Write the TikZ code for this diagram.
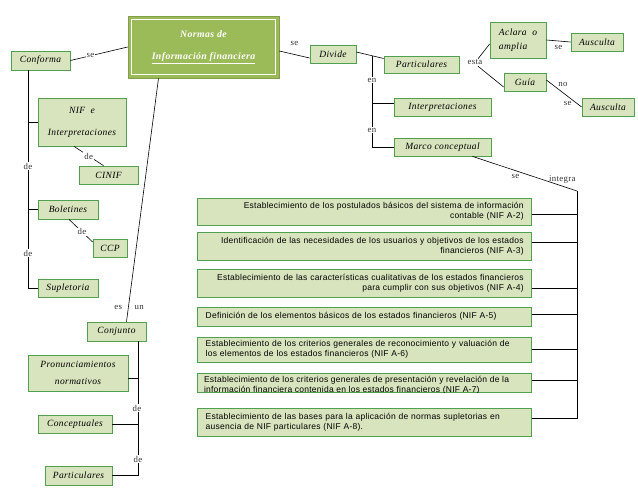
\documentclass[tikz,border=0pt]{standalone}
\usepackage{fontspec}
\setmainfont[LetterSpace=4]{Liberation Serif}
\newfontfamily\nifsans[LetterSpace=3]{Liberation Sans}
\usepackage{tikz}
\definecolor{normafill}{RGB}{155,187,89}
\definecolor{conceptfill}{RGB}{215,228,189}
\definecolor{conceptline}{RGB}{80,160,80}
\definecolor{labelgray}{RGB}{50,50,50}
\tikzset{>=latex}

\begin{document}
\begin{tikzpicture}[x=1pt,y=-1pt]
  % cajas verdes = conceptos, texto suelto = palabras de enlace
  \tikzset{
    concepto/.style={draw=conceptline, fill=conceptfill, line width=0.8pt, inner sep=1pt, font=\itshape\fontsize{9.5}{11}\selectfont},
    nif/.style={draw=conceptline, fill=conceptfill, line width=0.8pt, text width=318pt, inner xsep=8pt, font=\nifsans\fontsize{8.5}{10}\selectfont},
    enlace/.style={font=\fontsize{8.8}{10}\selectfont, text=labelgray, inner sep=1pt},
    corte/.style={enlace, fill=white},
    linea/.style={draw=black, line width=0.6pt}
  }
  \useasboundingbox (0,0) rectangle (638,493);

  \node[fill=normafill, draw=normafill!85!black, line width=0.6pt, minimum width=151, minimum height=62, align=center, text=white, font=\bfseries\itshape\fontsize{9.8}{11}\selectfont] (normas) at (203.5,47) {Normas de\\[11pt]\underline{Información financiera}};
  \draw[white, line width=0.9pt] ([xshift=3.5, yshift=-3.5]normas.north west) rectangle ([xshift=-3.5, yshift=3.5]normas.south east);

  \node[concepto, minimum width=59, minimum height=19] (conforma) at (40.5,60.5) {Conforma};
  \node[concepto, minimum width=88, minimum height=48, align=center] (nif) at (82,122) {NIF\ \ e\\[11pt]Interpretaciones};
  \node[concepto, minimum width=59, minimum height=18] (cinif) at (108.5,175) {CINIF};
  \node[concepto, minimum width=60, minimum height=19] (boletines) at (68,209.5) {Boletines};
  \node[concepto, minimum width=34, minimum height=18] (ccp) at (110,248) {CCP};
  \node[concepto, minimum width=60, minimum height=18] (supletoria) at (68,288) {Supletoria};
  \node[concepto, minimum width=59, minimum height=19] (conjunto) at (116.5,331.5) {Conjunto};
  \node[concepto, minimum width=100, minimum height=36, align=center] (pronun) at (78,373) {Pronunciamientos\\[6pt]normativos};
  \node[concepto, minimum width=74, minimum height=18] (conceptuales) at (75,424) {Conceptuales};
  \node[concepto, minimum width=67, minimum height=19] (partnorma) at (78.5,475.5) {Particulares};

  \node[concepto, minimum width=46, minimum height=18] (divide) at (333,54) {Divide};
  \node[concepto, minimum width=75, minimum height=17] (particulares) at (421.5,64.5) {Particulares};
  \node[concepto, minimum width=97, minimum height=18] (interp) at (442.5,107) {Interpretaciones};
  \node[concepto, minimum width=97, minimum height=18] (marco) at (442.5,147) {Marco conceptual};
  \node[concepto, minimum width=56, minimum height=36, align=left] (aclara) at (518,40) {Aclara\ \ o\\[3pt]amplia};
  \node[concepto, minimum width=42, minimum height=18] (guia) at (525,82) {Guía};
  \node[concepto, minimum width=52, minimum height=18] (auscultaA) at (597,42) {Ausculta};
  \node[concepto, minimum width=52, minimum height=18] (auscultaB) at (608,107) {Ausculta};

  \node[nif, align=right, minimum height=27] (a2) at (364.7,211.5) {Establecimiento de los postulados básicos del sistema de información\\contable (NIF A-2)};
  \node[nif, align=right, minimum height=28] (a3) at (364.7,246) {Identificación de las necesidades de los usuarios y objetivos de los estados\\financieros (NIF A-3)};
  \node[nif, align=right, minimum height=28] (a4) at (364.7,283) {Establecimiento de las características cualitativas de los estados financieros\\para cumplir con sus objetivos (NIF A-4)};
  \node[nif, align=left, minimum height=19] (a5) at (364.7,316.5) {Definición de los elementos básicos de los estados financieros (NIF A-5)};
  \node[nif, align=left, minimum height=25] (a6) at (364.7,349.5) {Establecimiento de los criterios generales de reconocimiento y valuación de\\los elementos de los estados financieros (NIF A-6)};
  \node[nif, minimum height=19] (a7) at (364.7,382.5) {};
  \begin{scope}
    \clip (a7.north west) rectangle (a7.south east);
    \node[anchor=north west, align=left, inner sep=0pt, font=\nifsans\fontsize{8.5}{10}\selectfont] (a7texto) at ([xshift=6.5, yshift=-3]a7.north west) {Establecimiento de los criterios generales de presentación y revelación de la\\información financiera contenida en los estados financieros (NIF A-7)};
  \end{scope}
  \node[nif, align=left, minimum height=28] (a8) at (364.7,422) {Establecimiento de las bases para la aplicación de normas supletorias en\\ausencia de NIF particulares (NIF A-8).};

  % conectores
  \draw[linea] (conforma.east) -- node[corte, pos=0.35] {se} (normas.west);
  \draw[linea] ([yshift=-4]normas.east) -- node[enlace, above=8pt] {se} ([yshift=-4]divide.west);

  \coordinate (conformaeje) at ([xshift=-12.5]conforma.south);
  \draw[linea] (conformaeje) |- (nif.west);
  \draw[linea] (conformaeje) |- (boletines.west);
  \draw[linea] (conformaeje) |- (supletoria.west);
  \node[corte] (deA) at (28,166) {de};
  \node[corte] (deB) at (28,253) {de};
  \draw[linea] ([xshift=-8]nif.south) -- node[corte] {de} ([xshift=-5]cinif.north);
  \draw[linea] ([xshift=1]boletines.south) -- node[corte, pos=0.55] {de} ([yshift=6]ccp.west);

  \draw[linea] ([xshift=-45]normas.south) -- node[enlace, pos=0.94, left=5pt] {es} node[enlace, pos=0.94, right=5pt] {un} ([xshift=10]conjunto.north);
  \coordinate (conjuntoeje) at ([xshift=21.5]conjunto.south);
  \draw[linea] (conjuntoeje) |- ([yshift=-5]pronun.east);
  \draw[linea] (conjuntoeje) |- (conceptuales.east);
  \draw[linea] (conjuntoeje) |- (partnorma.east);
  \node[corte] (deC) at (137,408) {de};
  \node[corte] (deD) at (138,459) {de};

  \draw[linea] ([yshift=2]divide.east) -- ([yshift=6]particulares.west);
  \coordinate (divideeje) at (372,56);
  \draw[linea] (divideeje) |- ([yshift=4]interp.west);
  \draw[linea] (divideeje) |- (marco.west);
  \node[corte] (enA) at (372,80) {en};
  \node[corte] (enB) at (372,130) {en};

  \node[enlace] (esta) at (475,62.5) {esta};
  \draw[linea] ([xshift=3]esta.north) -- ([yshift=-4]aclara.west);
  \draw[linea] ([xshift=3]esta.south) -- ([yshift=-5]guia.west);
  \draw[linea] (aclara.east) -- node[enlace, below=3pt] {se} (auscultaA.west);
  \draw[linea] ([yshift=2]guia.east) -- node[enlace, pos=0.3, above right] {no} node[enlace, pos=0.75, below left] {se} (auscultaB.west);

  \coordinate (marcoeje) at (577,191);
  \draw[linea] ([xshift=30]marco.south) -- node[enlace, pos=0.41, below=2pt] {se} node[enlace, pos=0.86, above=1pt] {integra} (marcoeje);
  \foreach \caja/\dy in {a2/-2.5, a3/4, a4/-5, a5/2.5, a6/0, a7/2.5, a8/4}
    \draw[linea] ([yshift=\dy]\caja.east) -| (marcoeje);
\end{tikzpicture}
\end{document}
